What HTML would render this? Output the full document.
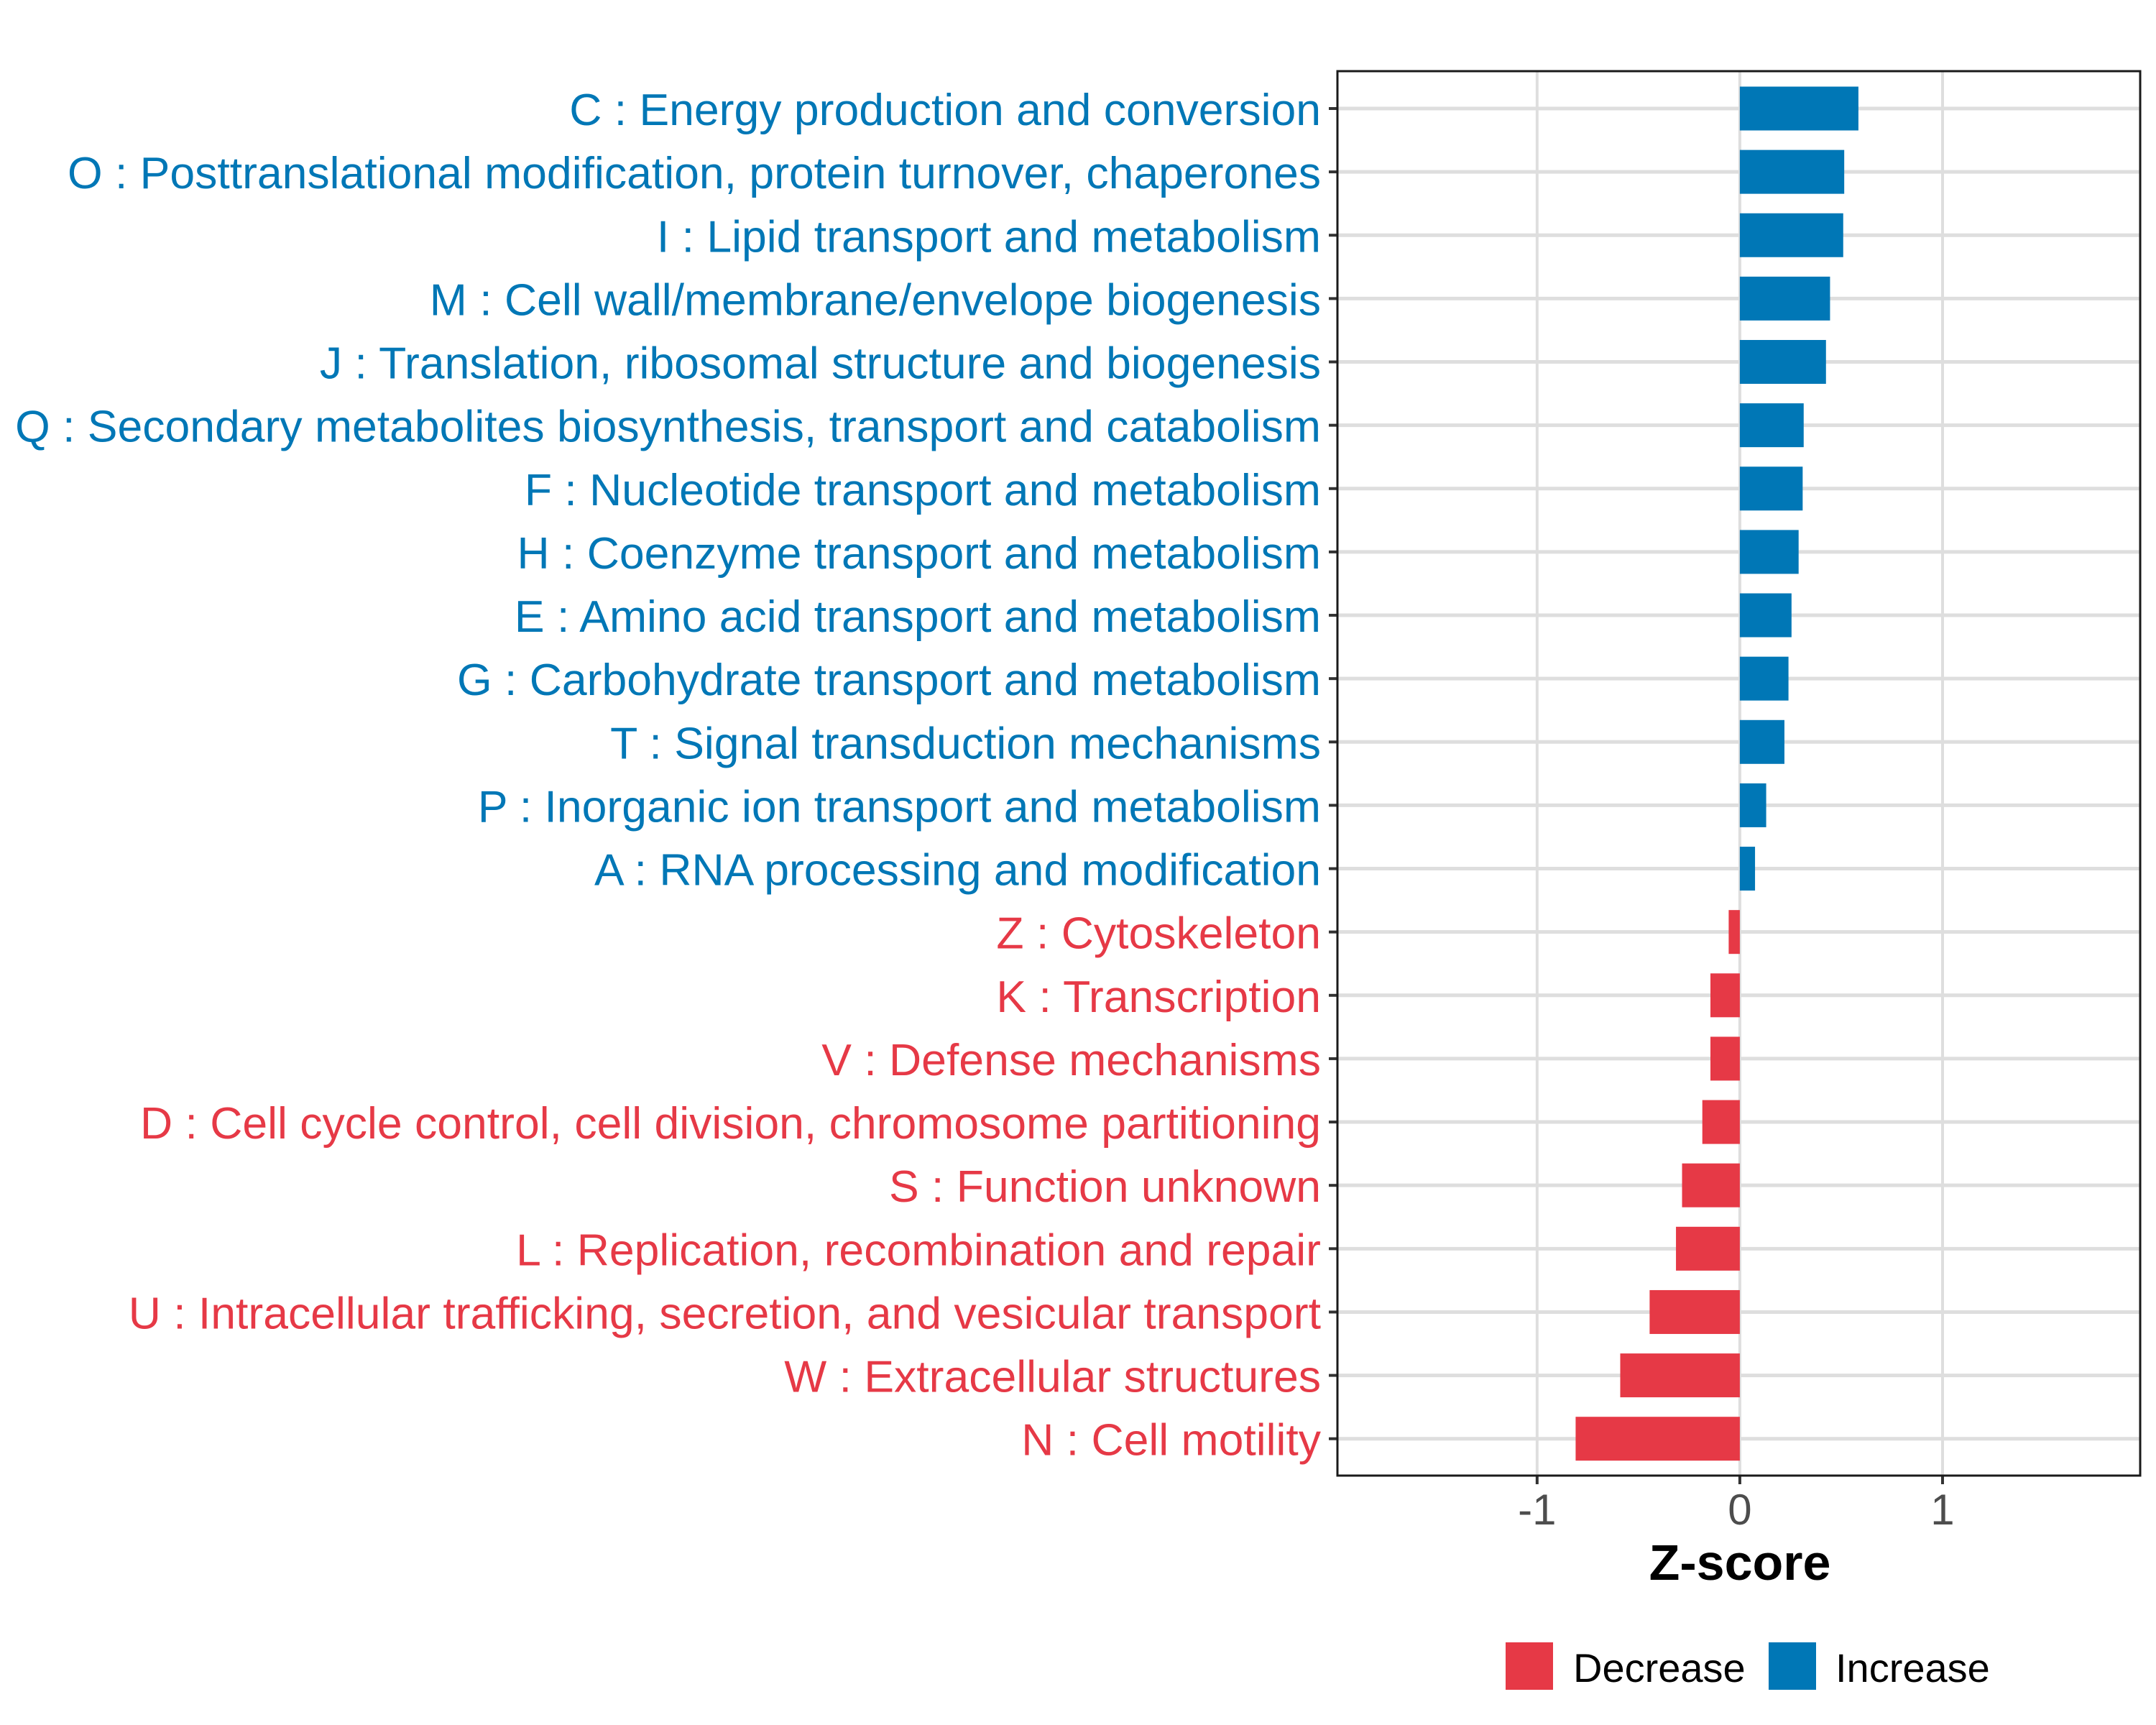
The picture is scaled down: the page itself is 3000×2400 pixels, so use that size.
<!DOCTYPE html>
<html><head><meta charset="utf-8"><style>
html,body{margin:0;padding:0;background:#fff;}
svg{display:block;font-family:"Liberation Sans",Arial,sans-serif;}
</style></head><body>
<svg id="chart" width="3000" height="2400" viewBox="0 0 3000 2400">
<g id="grid"></g>
<g id="bars"></g>
<g id="ylabels"></g>
<g id="xaxis"></g>
<rect x="1861" y="99" width="1117" height="1954" fill="none" stroke="#1a1a1a" stroke-width="3"/>
<text x="2421" y="2198" font-size="70" font-weight="bold" text-anchor="middle" fill="#000">Z-score</text>
<g>
<rect x="2095" y="2285" width="66" height="66" fill="#E63946"/>
<text x="2189" y="2340" font-size="56" fill="#000">Decrease</text>
<rect x="2461" y="2285" width="66" height="66" fill="#0077B6"/>
<text x="2554" y="2340" font-size="56" fill="#000">Increase</text>
</g>
</svg>
<script>
const categories = [
"C : Energy production and conversion",
"O : Posttranslational modification, protein turnover, chaperones",
"I : Lipid transport and metabolism",
"M : Cell wall/membrane/envelope biogenesis",
"J : Translation, ribosomal structure and biogenesis",
"Q : Secondary metabolites biosynthesis, transport and catabolism",
"F : Nucleotide transport and metabolism",
"H : Coenzyme transport and metabolism",
"E : Amino acid transport and metabolism",
"G : Carbohydrate transport and metabolism",
"T : Signal transduction mechanisms",
"P : Inorganic ion transport and metabolism",
"A : RNA processing and modification",
"Z : Cytoskeleton",
"K : Transcription",
"V : Defense mechanisms",
"D : Cell cycle control, cell division, chromosome partitioning",
"S : Function unknown",
"L : Replication, recombination and repair",
"U : Intracellular trafficking, secretion, and vesicular transport",
"W : Extracellular structures",
"N : Cell motility"];
const zscores = [0.585,0.515,0.51,0.445,0.425,0.315,0.31,0.29,0.255,0.24,0.22,0.13,0.075,-0.055,-0.145,-0.145,-0.185,-0.285,-0.315,-0.445,-0.59,-0.81];
const xTicks = [-1,0,1];
const xTickLabels = ["-1","0","1"];

const NS="http://www.w3.org/2000/svg";
const PL=1861, PR=2978, PT=99, PB=2053;
const XMIN=-1.985, XMAX=1.975;
const xs = v => PL + (v - XMIN)/(XMAX - XMIN)*(PR-PL);
const ROW0=151, STEP=(2001.7-151)/21;
const ys = i => ROW0 + i*STEP;
const BH = 61;
function mk(tag, attrs, parent){const e=document.createElementNS(NS,tag);for(const k in attrs)e.setAttribute(k,attrs[k]);parent.appendChild(e);return e;}
const grid=document.getElementById('grid'), bars=document.getElementById('bars'), yl=document.getElementById('ylabels'), xa=document.getElementById('xaxis');
xTicks.forEach((t,i)=>{
  const l=mk('line',{x1:xs(t),x2:xs(t),y1:PT,y2:PB,stroke:'#dedede','stroke-width':4},grid);
  
  
  const tk=mk('line',{x1:xs(t),x2:xs(t),y1:PB,y2:PB+12,stroke:'#333','stroke-width':4},xa);
  
  
  const tx=mk('text',{x:xs(t),y:2121,'font-size':60,'text-anchor':'middle',fill:'#4d4d4d'},xa);
  tx.textContent=xTickLabels[i];
  
  
});
categories.forEach((c,i)=>{
  const y=ys(i);
  const g=mk('line',{x1:PL,x2:PR,y1:y,y2:y,stroke:'#dedede','stroke-width':5},grid);
  
  
  const v=zscores[i];
  const col=v>=0?'#0077B6':'#E63946';
  const x0=xs(0), x1=xs(v);
  const r=mk('rect',{x:Math.min(x0,x1),y:y-BH/2,width:Math.abs(x1-x0),height:BH,fill:col},bars);
  
  
  const tk=mk('line',{x1:PL-12,x2:PL,y1:y,y2:y,stroke:'#333','stroke-width':4},yl);
  
  
  const t=mk('text',{x:1838,y:y+23,'font-size':62.5,'text-anchor':'end',fill:col},yl);
  t.textContent=c;
  
  
});
</script>
</body></html>
